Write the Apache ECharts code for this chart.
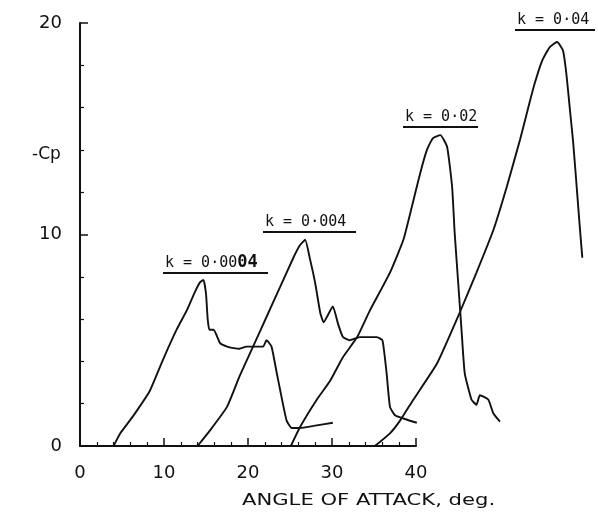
<!DOCTYPE html>
<html>
<head>
<meta charset="utf-8">
<script src="https://cdn.jsdelivr.net/npm/echarts@6/dist/echarts.min.js"></script>
<style>
  html, body { margin: 0; padding: 0; background: #fff; }
  #chart { width: 598px; height: 516px; }
</style>
</head>
<body>
<div id="chart"></div>
<script>
// curve values: [angle of attack (deg), -Cp]
var k0004 = [[4,0],[4.8,0.6],[6.3,1.4],[8.3,2.6],[9.9,4.1],[11.5,5.5],[12.7,6.4],[13.7,7.3],[14.3,7.75],[14.7,7.85],
  [15.0,7.2],[15.2,6.0],[15.4,5.5],[15.9,5.5],[16.7,4.85],[17.5,4.7],[19.0,4.6],[19.8,4.7],[21.8,4.7],[22.2,5.0],
  [22.8,4.7],[23.4,3.5],[24.0,2.3],[24.6,1.2],[25.2,0.85],[26.2,0.85],[27.8,0.95],[30.1,1.1]];
var k004 = [[14,0],[15.5,0.75],[17.5,1.85],[19.0,3.3],[20.6,4.7],[22.2,6.1],[23.8,7.5],[25.4,8.9],[26.2,9.5],[26.8,9.75],
  [27.4,8.8],[28.0,7.7],[28.6,6.3],[29.0,5.85],[30.1,6.6],[30.7,5.8],[31.3,5.15],[32.1,5.0],[33.3,5.15],[35.3,5.15],
  [36.0,5.0],[36.5,3.45],[36.9,1.85],[37.5,1.45],[38.5,1.3],[40.1,1.1]];
var k02 = [[25.1,0],[26.2,0.9],[28.2,2.2],[29.8,3.1],[31.3,4.2],[33.0,5.15],[34.5,6.4],[36.9,8.2],[38.5,9.75],[39.5,11.3],
  [40.5,12.9],[41.3,14.0],[42.0,14.55],[42.9,14.7],[43.7,14.15],[44.3,12.25],[44.6,10.1],[45.0,7.85],[45.4,5.6],[45.8,3.45],
  [46.6,2.2],[47.2,1.95],[47.6,2.4],[48.6,2.2],[49.2,1.55],[50.0,1.15]];
var k04 = [[35.1,0],[36.9,0.6],[38.1,1.2],[39.7,2.2],[42.5,3.9],[45.2,6.3],[47.2,8.2],[49.2,10.2],[50.8,12.25],[52.4,14.5],
  [53.3,15.9],[54.1,17.1],[55.0,18.2],[55.9,18.85],[56.8,19.1],[57.5,18.7],[57.9,17.6],[58.3,16.0],[58.7,14.4],[59.1,12.4],
  [59.5,10.35],[59.8,8.9]];

var curveNames = ['k = 0·0004', 'k = 0·004', 'k = 0·02', 'k = 0·04'];
var curves = [k0004, k004, k02, k04];
var xTicks = [0, 10, 20, 30, 40];
var yTicks = [0, 10, 20];
var xPlotMax = 60; // curves run past the drawn axis

// where each k label sits (left x, middle y, underline end x)
var labelPos = [[165, 263, 268], [265, 222, 356], [405, 117, 478], [517, 20, 595]];

var chart = echarts.init(document.getElementById('chart'));
var black = '#111';
var labelFont = '15px "DejaVu Sans Mono"';

var graphics = [
  { type: 'text', x: 32, y: 155, style: { text: '-Cp', font: '17px "DejaVu Sans"', fill: black, verticalAlign: 'middle' } },
  { type: 'text', x: 242, y: 501, scaleX: 1.32, style: { text: 'ANGLE OF ATTACK, deg.', font: '16px "DejaVu Sans"', fill: black, verticalAlign: 'middle' } }
];
curveNames.forEach(function (name, i) {
  var p = labelPos[i];
  // the first label has its last two digits written heavier on the original
  var txt = i === 0 ? 'k = 0·00{b|04}' : name;
  graphics.push({
    type: 'text', x: p[0], y: p[1],
    style: {
      text: txt, font: labelFont, fill: black, verticalAlign: 'middle',
      rich: { b: { fontFamily: 'DejaVu Sans Mono', fontSize: 17, fontWeight: 'bold', fill: black } }
    }
  });
  graphics.push({ type: 'line', shape: { x1: p[0] - 2, y1: p[1] + 10, x2: p[2], y2: p[1] + 10 }, style: { stroke: black, lineWidth: 2 } });
});

var axisCommon = {
  type: 'value',
  axisLine: { show: true, lineStyle: { color: black, width: 2 } },
  axisTick: { show: true, inside: true, length: 8, lineStyle: { color: black, width: 1.5 } },
  minorTick: { show: true, splitNumber: 5, length: 4, lineStyle: { color: black, width: 1.2 } },
  splitLine: { show: false },
  axisLabel: { color: black, fontFamily: 'DejaVu Sans', fontSize: 18, margin: 18 }
};
var hiddenAxis = { type: 'value', show: false, splitLine: { show: false } };

var unit = 336 / xTicks[xTicks.length - 1];

chart.setOption({
  animation: false,
  backgroundColor: '#fff',
  grid: [
    { left: 80, top: 23, width: 336, height: 423 },
    { left: 80, top: 23, width: unit * xPlotMax, height: 423 }
  ],
  xAxis: [
    Object.assign({}, axisCommon, {
      gridIndex: 0, min: xTicks[0], max: xTicks[xTicks.length - 1], interval: xTicks[1] - xTicks[0]
    }),
    Object.assign({}, hiddenAxis, { gridIndex: 1, min: xTicks[0], max: xPlotMax })
  ],
  yAxis: [
    Object.assign({}, axisCommon, {
      gridIndex: 0, min: yTicks[0], max: yTicks[yTicks.length - 1], interval: yTicks[1] - yTicks[0]
    }),
    Object.assign({}, hiddenAxis, { gridIndex: 1, min: yTicks[0], max: yTicks[yTicks.length - 1] })
  ],
  graphic: graphics,
  series: curves.map(function (d, i) {
    return {
      name: curveNames[i],
      type: 'line',
      xAxisIndex: 1,
      yAxisIndex: 1,
      data: d,
      showSymbol: false,
      clip: false,
      smooth: 0.15,
      lineStyle: { color: black, width: 1.9 }
    };
  })
});
</script>
</body>
</html>
